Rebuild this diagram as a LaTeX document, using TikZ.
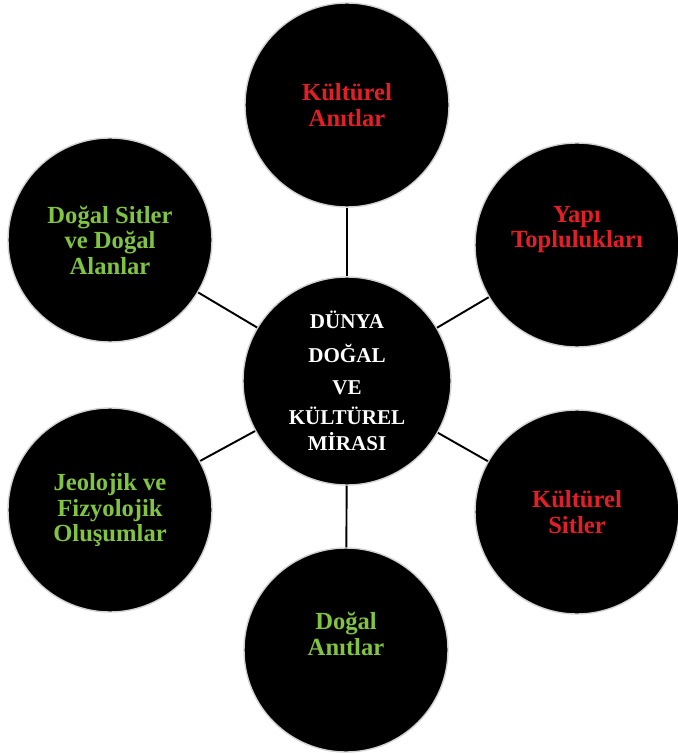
\documentclass[tikz,border=0pt]{standalone}
\usepackage{fontspec}
\setmainfont{Liberation Serif}
\definecolor{kirmizi_c}{RGB}{228,30,38}
\definecolor{yesil_c}{RGB}{128,196,66}
\usetikzlibrary{positioning}

\begin{document}
\begin{tikzpicture}[
			thick,
			konu/.style = {circle, fill=black, draw=gray!35, line width=0.8pt,
				minimum size=4.08cm, inner sep=0pt, align=center,
				font=\bfseries\fontsize{14}{14.5}\selectfont},
			merkez/.style = {konu, minimum size=4.16cm, text=white,
				font=\bfseries\fontsize{12}{16.5}\selectfont},
			kultur/.style = {konu, text=kirmizi_c},
			doga/.style = {konu, text=yesil_c},
			bag/.style = {draw=black, line width=1.1pt},
			]
			\useasboundingbox (0,0) rectangle (13.54,-15.08);
			% center
			\node[merkez] (M) at (6.94,-7.62) {DÜNYA\\[2.8pt]DOĞAL\\[1.7pt]VE\\[0.6pt]KÜLTÜREL\\[-1.7pt]MİRASI};
			% red circles
			\node[kultur] (KA) at (6.94,-2.10) {Kültürel\\Anıtlar};
			\node[kultur] (YT) at (11.54,-4.90) {Yapı\\Toplulukları\\[6pt]};
			\node[kultur] (KS) at (11.54,-10.24) {Kültürel\\Sitler};
			% green circles
			\node[doga] (DA) at (6.92,-13.00) {Doğal\\Anıtlar\\[4pt]};
			\node[doga] (JF) at (2.20,-10.20) {Jeolojik ve\\Fizyolojik\\Oluşumlar};
			\node[doga] (DS) at (2.20,-4.80) {Doğal Sitler\\ve Doğal\\Alanlar};
			% edges
			\foreach \n in {KA,YT,KS,DA,JF,DS}
				\path[bag] (M) -- (\n);
		\end{tikzpicture}
\end{document}
